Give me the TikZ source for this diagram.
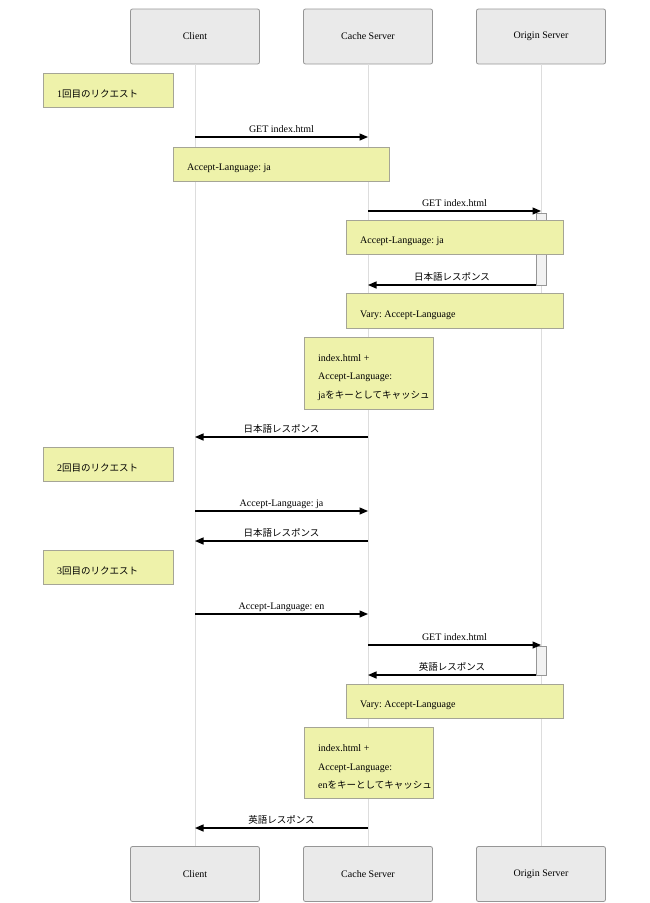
\documentclass[tikz,border=0pt]{standalone}
\usepackage{fontspec}
\setmainfont{Liberation Serif}
\newfontfamily\jp[Scale=0.95]{Noto Sans CJK JP}
\usetikzlibrary{arrows.meta}
\frenchspacing
\definecolor{actfill}{RGB}{234,234,234}
\definecolor{actline}{RGB}{150,150,150}
\definecolor{notefill}{RGB}{238,242,170}
\definecolor{noteline}{RGB}{165,165,150}
\definecolor{lifecol}{RGB}{221,221,221}
\newcommand\seqmsg[5]{%
  \coordinate (#1a) at (#2,#4);
  \coordinate (#1b) at (#3,#4);
  \draw[msg] (#1a) -- (#1b) coordinate[midway] (#1m);
  \node[msglabel] (#1l) at ([yshift=5pt]#1m) {#5};
}
% name, x, y, width, height, text
\newcommand\seqnote[6]{%
  \node[notebox, minimum width=#4pt, minimum height=#5pt] (#1) at (#2,#3) {};
  \node[notetext] (#1t) at ([xshift=14pt,yshift=-4pt]#1.west) {#6};
}
\begin{document}
\begin{tikzpicture}[x=1pt,y=-1pt,
  base/.style={font=\fontsize{10}{12}\selectfont},
  actor/.style={base, draw=actline, fill=actfill, rounded corners=2pt, minimum width=129pt, minimum height=55pt, inner sep=0pt, line width=0.8pt},
  notebox/.style={draw=noteline, fill=notefill, line width=0.9pt, anchor=north west, inner sep=0pt},
  notetext/.style={font=\fontsize{10}{18.5}\selectfont, anchor=west, align=left, inner sep=0pt},
  msg/.style={line width=1.3pt, -{Triangle[length=8.5pt,width=7pt]}},
  msglabel/.style={base, anchor=base, inner sep=0pt},
  lifeline/.style={draw=lifecol, line width=1pt},
  actbar/.style={draw=actline, fill=actfill!60, line width=0.8pt}]
\useasboundingbox (0,0) rectangle (650,903);
% actors
\node[actor] (cT) at (195,36.5) {Client};
\node[actor] (sT) at (368,36.5) {Cache Server};
\node[actor] (oT) at (541,36.5) {Origin Server};
\node[actor] (cB) at (195,874) {Client};
\node[actor] (sB) at (368,874) {Cache Server};
\node[actor] (oB) at (541,874) {Origin Server};
% lifelines
\draw[lifeline] (cT.south) -- (cB.north);
\draw[lifeline] (sT.south) -- (sB.north);
\draw[lifeline] (oT.south) -- (oB.north);
% activations
\node[actbar, minimum width=10pt, minimum height=72pt, inner sep=0pt, anchor=north] (a1) at (541,213) {};
\node[actbar, minimum width=10pt, minimum height=29pt, inner sep=0pt, anchor=north] (a2) at (541,646) {};
% sequence
\seqnote{n1}{43}{73}{130}{34}{1{\jp 回目のリクエスト}}
\seqmsg{m1}{195}{368}{137}{GET index.html}
\seqnote{n2}{173}{147}{216}{34}{Accept-Language: ja}
\seqmsg{m2}{368}{541}{211}{GET index.html}
\seqnote{n3}{346}{220}{217}{34}{Accept-Language: ja}
\seqmsg{m3}{536}{368}{285}{\jp 日本語レスポンス}
\seqnote{n4}{346}{293}{217}{35}{Vary: Accept-Language}
\seqnote{n5}{304}{337}{129}{72}{index.html +\\Accept-Language:\\ja{\jp をキーとしてキャッシュ}}
\seqmsg{m4}{368}{195}{437}{\jp 日本語レスポンス}
\seqnote{n6}{43}{447}{130}{34}{2{\jp 回目のリクエスト}}
\seqmsg{m5}{195}{368}{511}{Accept-Language: ja}
\seqmsg{m6}{368}{195}{541}{\jp 日本語レスポンス}
\seqnote{n7}{43}{550}{130}{34}{3{\jp 回目のリクエスト}}
\seqmsg{m7}{195}{368}{614}{Accept-Language: en}
\seqmsg{m8}{368}{541}{645}{GET index.html}
\seqmsg{m9}{536}{368}{675}{\jp 英語レスポンス}
\seqnote{n8}{346}{684}{217}{34}{Vary: Accept-Language}
\seqnote{n9}{304}{727}{129}{71}{index.html +\\Accept-Language:\\en{\jp をキーとしてキャッシュ}}
\seqmsg{m10}{368}{195}{828}{\jp 英語レスポンス}
\end{tikzpicture}
\end{document}
